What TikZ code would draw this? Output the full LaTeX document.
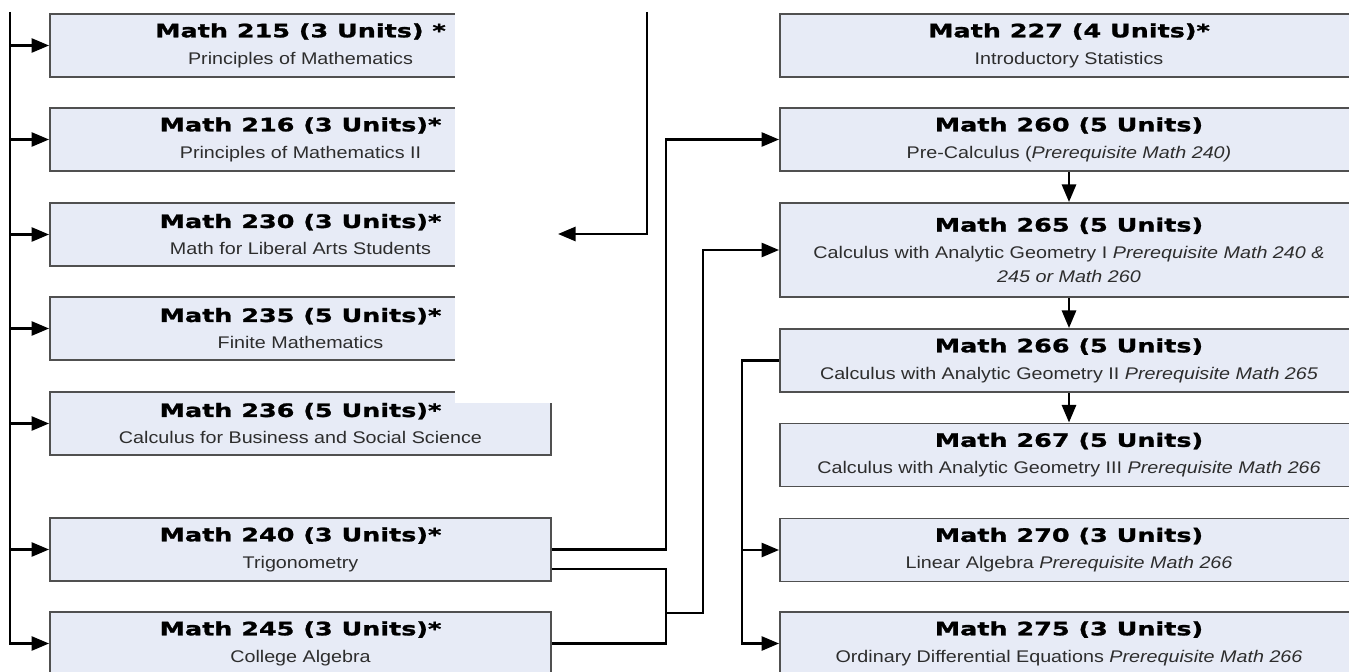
\documentclass[tikz,border=0pt]{standalone}
\usepackage{fontspec}
\setmainfont[FakeStretch=1.17]{Liberation Sans}
\newfontfamily\headfont[FakeStretch=1.38,FakeBold=1.3]{DejaVu Sans Bold}
\usepackage{xcolor}
\usetikzlibrary{arrows.meta}

\definecolor{boxfill}{RGB}{231,235,246}
\definecolor{boxline}{RGB}{80,80,80}
\definecolor{subtext}{RGB}{45,45,45}

\newcommand{\course}[2]{{\headfont\fontsize{10.5pt}{12pt}\selectfont\color{black}#1}\\#2}

\tikzset{
  coursebox/.style={rectangle, draw=boxline, line width=1.1pt, fill=boxfill,
    align=center, inner sep=0pt, minimum height=1.26cm, text=subtext,
    font=\fontsize{9.6pt}{15.3pt}\selectfont},
  leftbox/.style={coursebox, minimum width=10.02cm},
  rightbox/.style={coursebox, minimum width=11.56cm},
  link/.style={line width=1.5pt, -{Triangle[length=10pt,width=8pt]}},
  plain/.style={line width=1.5pt}
}

\begin{document}
\begin{tikzpicture}[x=0.02cm, y=-0.02cm]
      % \draw[help lines, gray!50, very thin] (0,0) grid[step=50] (1349,672);
      \clip (0,0) rectangle (1349,672);

      % left column
      \node[leftbox] (m215) at (300.5,45.5) {\course{Math 215 (3 Units) *}{Principles of Mathematics}};
      \node[leftbox] (m216) at (300.5,139.5) {\course{Math 216 (3 Units)*}{Principles of Mathematics II}};
      \node[leftbox] (m230) at (300.5,234.5) {\course{Math 230 (3 Units)*}{Math for Liberal Arts Students}};
      \node[leftbox] (m235) at (300.5,328.5) {\course{Math 235 (5 Units)*}{Finite Mathematics}};
      \node[leftbox] (m236) at (300.5,423.5) {\course{Math 236 (5 Units)*}{Calculus for Business and Social Science}};
      \node[leftbox] (m240) at (300.5,549.5) {\course{Math 240 (3 Units)*}{Trigonometry}};
      \node[leftbox] (m245) at (300.5,643.5) {\course{Math 245 (3 Units)*}{College Algebra}};

      % right column
      \node[rightbox] (m227) at (1069,45.5) {\course{Math 227 (4 Units)*}{Introductory Statistics}};
      \node[rightbox] (m260) at (1069,139.5) {\course{Math 260 (5 Units)}{Pre-Calculus (\textit{Prerequisite Math 240)}}};
      \node[rightbox, minimum height=1.88cm] (m265) at (1069,250) {\course{Math 265 (5 Units)}{Calculus with Analytic Geometry I \textit{Prerequisite Math 240 \&}\\[-1.7pt]\textit{245 or Math 260}}};
      \node[rightbox] (m266) at (1069,360.5) {\course{Math 266 (5 Units)}{Calculus with Analytic Geometry II \textit{Prerequisite Math 265}}};
      \node[rightbox] (m267) at (1069,455) {\course{Math 267 (5 Units)}{Calculus with Analytic Geometry III \textit{Prerequisite Math 266}}};
      \node[rightbox] (m270) at (1069,550) {\course{Math 270 (3 Units)}{Linear Algebra \textit{Prerequisite Math 266}}};
      \node[rightbox] (m275) at (1069,643.5) {\course{Math 275 (3 Units)}{Ordinary Differential Equations \textit{Prerequisite Math 266}}};

      % blank strip over the left boxes
      \fill[white] (455,-2) rectangle (553,403);

      % trunk on the left
      \coordinate (lefttop) at (10,12);
      \draw[link] (lefttop) |- (m245.west);
      \foreach \n in {m215,m216,m230,m235,m236,m240}
        \draw[link] (lefttop |- \n.west) -- (\n.west);

      % line coming down from above
      \coordinate (midtop) at (647,12);
      \coordinate (midend) at (558,234);
      \draw[link] (midtop) |- (midend);

      % 240 and 245 to 260 and 265
      \coordinate (j1) at (666,613);
      \coordinate (j2) at (703,613);
      \draw[link] (m240.east) -| (j1 |- m260.west) -- (m260.west);
      \draw[plain] ([yshift=-11pt]m240.east) -| (j1) |- (m245.east);
      \draw[link] (j1) -- (j2) |- (m265.west);

      % calculus chain
      \draw[link] (m260.south) -- (m265.north);
      \draw[link] (m265.south) -- (m266.north);
      \draw[link] (m266.south) -- (m267.north);

      % 266 to 270 and 275
      \coordinate (j3) at (742,0);
      \draw[link] (m266.west) -| (j3 |- m275.west) -- (m275.west);
      \draw[link] (j3 |- m270.west) -- (m270.west);
    \end{tikzpicture}
\end{document}
